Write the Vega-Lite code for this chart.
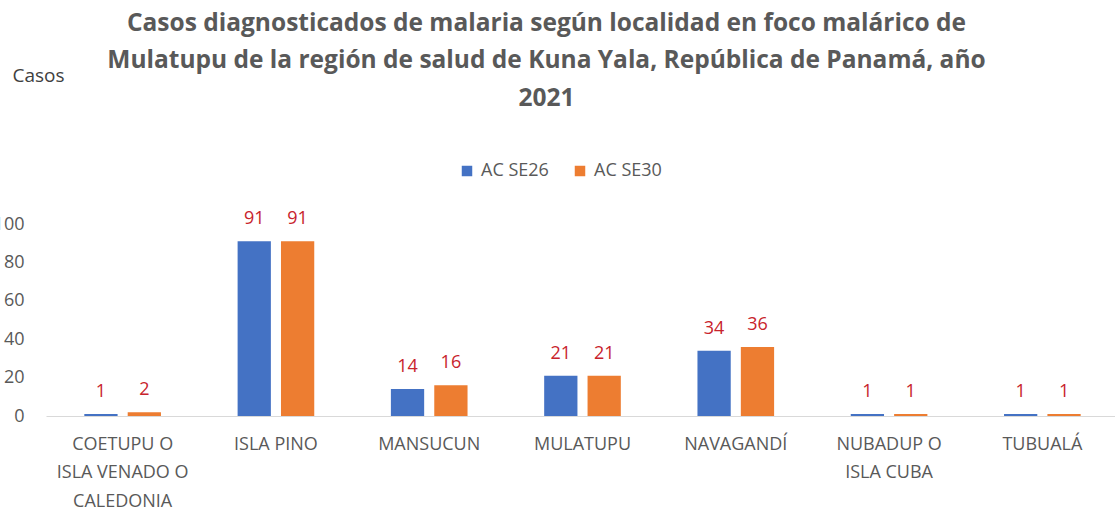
{
  "$schema": "https://vega.github.io/schema/vega-lite/v6.json",
  "autosize": {"type": "none"},
  "width": 1073,
  "height": 192,
  "padding": {"left": 46, "top": 224, "right": 0, "bottom": 97},
  "background": "white",
  "title": {
    "text": ["Casos diagnosticados de malaria según localidad en foco malárico de", "Mulatupu de la región de salud de Kuna Yala, República de Panamá, año", "2021"],
    "font": "Open Sans",
    "fontSize": 24.5,
    "fontWeight": "bold",
    "color": "#595959",
    "anchor": "middle",
    "frame": "group",
    "dx": -36,
    "lineHeight": 37.5,
    "offset": -45
  },
  "config": {
    "view": {"stroke": null},
    "font": "Open Sans"
  },
  "data": {
    "values": [
      {"localidad": "COETUPU O ISLA VENADO O CALEDONIA", "serie": "AC SE26", "casos": 1},
      {"localidad": "COETUPU O ISLA VENADO O CALEDONIA", "serie": "AC SE30", "casos": 2},
      {"localidad": "ISLA PINO", "serie": "AC SE26", "casos": 91},
      {"localidad": "ISLA PINO", "serie": "AC SE30", "casos": 91},
      {"localidad": "MANSUCUN", "serie": "AC SE26", "casos": 14},
      {"localidad": "MANSUCUN", "serie": "AC SE30", "casos": 16},
      {"localidad": "MULATUPU", "serie": "AC SE26", "casos": 21},
      {"localidad": "MULATUPU", "serie": "AC SE30", "casos": 21},
      {"localidad": "NAVAGANDÍ", "serie": "AC SE26", "casos": 34},
      {"localidad": "NAVAGANDÍ", "serie": "AC SE30", "casos": 36},
      {"localidad": "NUBADUP O ISLA CUBA", "serie": "AC SE26", "casos": 1},
      {"localidad": "NUBADUP O ISLA CUBA", "serie": "AC SE30", "casos": 1},
      {"localidad": "TUBUALÁ", "serie": "AC SE26", "casos": 1},
      {"localidad": "TUBUALÁ", "serie": "AC SE30", "casos": 1}
    ]
  },
  "encoding": {
    "x": {
      "field": "localidad",
      "type": "nominal",
      "sort": null,
      "scale": {"paddingInner": 0.5, "paddingOuter": 0.25},
      "axis": {
        "title": null,
        "domainColor": "#d9d9d9",
        "domainWidth": 1,
        "ticks": false,
        "labelAngle": 0,
        "labelFont": "Open Sans",
        "labelFontSize": 18,
        "labelColor": "#595959",
        "labelLineHeight": 28.5,
        "labelPadding": 19,
        "labelLimit": 300,
        "labelExpr": "datum.value == 'COETUPU O ISLA VENADO O CALEDONIA' ? ['COETUPU O', 'ISLA VENADO O', 'CALEDONIA'] : datum.value == 'NUBADUP O ISLA CUBA' ? ['NUBADUP O', 'ISLA CUBA'] : datum.value"
      }
    },
    "xOffset": {
      "field": "serie",
      "type": "nominal",
      "scale": {"paddingInner": 0.233}
    },
    "y": {
      "field": "casos",
      "type": "quantitative",
      "scale": {"domain": [0, 100]},
      "axis": {
        "title": "Casos",
        "titleAngle": 0,
        "titleX": -34,
        "titleY": -149,
        "titleAlign": "left",
        "titleBaseline": "middle",
        "titleFont": "Open Sans",
        "titleFontSize": 19,
        "titleFontWeight": "normal",
        "titleColor": "#404040",
        "values": [0, 20, 40, 60, 80, 100],
        "grid": false,
        "domain": false,
        "ticks": false,
        "labelFont": "Open Sans",
        "labelFontSize": 18,
        "labelColor": "#595959",
        "labelPadding": 22
      }
    }
  },
  "layer": [
    {
      "mark": {"type": "bar"},
      "encoding": {
        "color": {
          "field": "serie",
          "type": "nominal",
          "scale": {"domain": ["AC SE26", "AC SE30"], "range": ["#4472C4", "#ED7D31"]},
          "legend": {
            "title": null,
            "orient": "none",
            "direction": "horizontal",
            "legendX": 412,
            "legendY": -62,
            "symbolType": "square",
            "symbolSize": 110,
            "symbolStrokeWidth": 0,
            "labelFont": "Open Sans",
            "labelFontSize": 18,
            "labelColor": "#595959",
            "labelOffset": 5,
            "columnPadding": 22
          }
        }
      }
    },
    {
      "mark": {"type": "text", "dy": -17, "baseline": "alphabetic", "font": "Open Sans", "fontSize": 18, "color": "#C8232C"},
      "encoding": {
        "text": {"field": "casos", "type": "quantitative"}
      }
    }
  ]
}
